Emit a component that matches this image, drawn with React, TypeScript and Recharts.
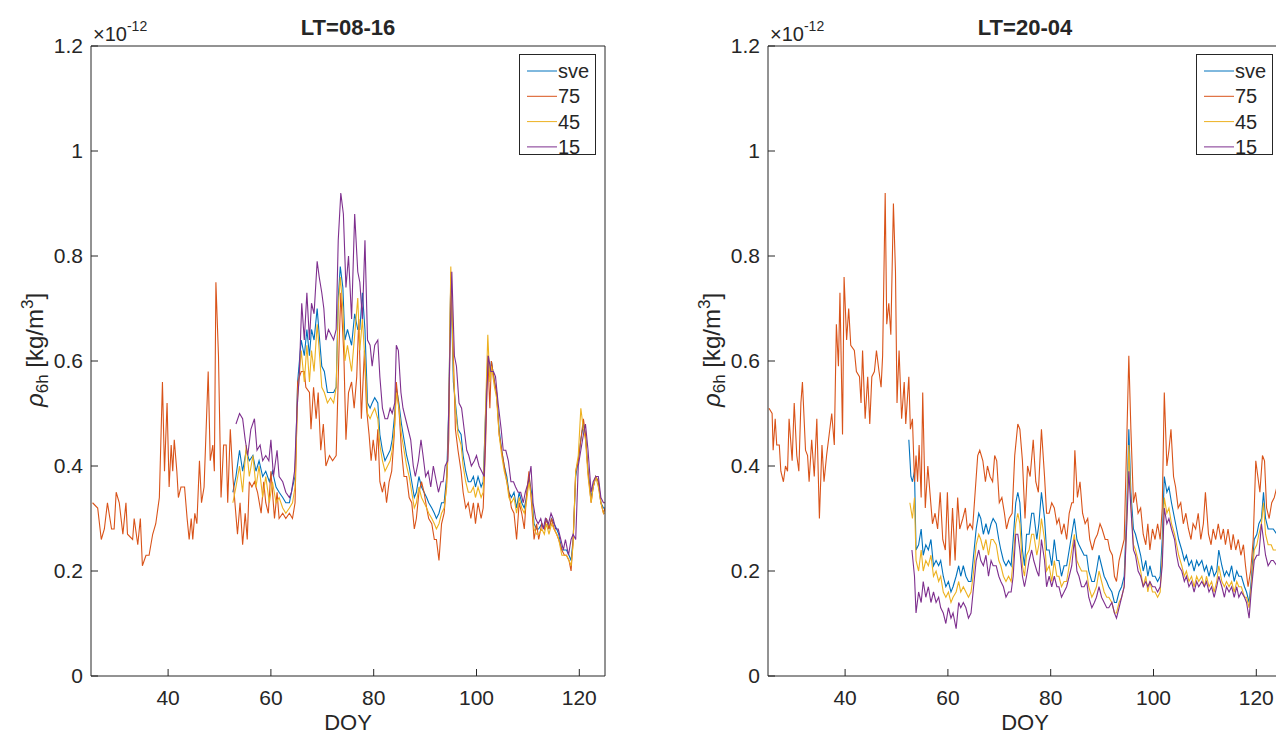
import { LineChart, Line, XAxis, YAxis, Legend } from "recharts";

type Pt = [number, number]; // [DOY, rho_6h in 1e-12 kg/m^3]

// ---- LT=08-16 ----
const leftSve: Pt[] = [[52.6,0.35],[53.2,0.38],[53.9,0.43],[54.5,0.39],[55.2,0.43],[55.8,0.41],[56.5,0.42],[57.1,0.39],[57.7,0.41],[58.4,0.38],[59,0.39],[59.7,0.37],[60.3,0.39],[61,0.36],[61.6,0.35],[62.3,0.34],[62.9,0.33],[63.6,0.33],[64.2,0.36],[64.7,0.38],[65.2,0.56],[65.9,0.64],[66.5,0.61],[67,0.66],[67.5,0.61],[67.9,0.66],[68.4,0.64],[69,0.70],[69.4,0.65],[69.9,0.59],[70.4,0.58],[71,0.54],[71.6,0.54],[72.2,0.54],[72.7,0.55],[73.1,0.72],[73.5,0.78],[74,0.74],[74.4,0.64],[74.9,0.66],[75.7,0.63],[76.3,0.69],[76.9,0.66],[77.3,0.66],[77.8,0.73],[78.3,0.66],[78.8,0.52],[79.3,0.51],[79.7,0.52],[80.2,0.53],[80.8,0.52],[81.2,0.46],[81.7,0.43],[82.2,0.41],[82.7,0.42],[83.2,0.43],[83.6,0.45],[84.1,0.50],[84.4,0.55],[84.9,0.52],[85.4,0.48],[85.9,0.45],[86.4,0.42],[86.9,0.40],[87.4,0.37],[87.9,0.34],[88.3,0.35],[88.8,0.38],[89.3,0.36],[89.8,0.35],[90.3,0.34],[90.7,0.33],[91.3,0.32],[91.8,0.31],[92.2,0.30],[92.7,0.31],[93.2,0.33],[93.7,0.33],[94.2,0.38],[94.6,0.51],[95,0.76],[95.5,0.56],[95.9,0.52],[96.4,0.47],[97,0.46],[97.4,0.42],[97.9,0.39],[98.4,0.37],[98.9,0.37],[99.4,0.38],[99.8,0.36],[100.3,0.38],[100.9,0.36],[101.3,0.37],[101.8,0.51],[102.2,0.61],[102.6,0.57],[102.9,0.60],[103.5,0.56],[103.9,0.54],[104.4,0.47],[104.9,0.43],[105.4,0.40],[105.9,0.38],[106.3,0.35],[106.8,0.34],[107.3,0.35],[107.8,0.32],[108.3,0.35],[108.8,0.33],[109.3,0.32],[109.7,0.34],[110.2,0.38],[110.7,0.35],[111.2,0.29],[111.7,0.28],[112.1,0.28],[112.7,0.29],[113.2,0.28],[113.6,0.30],[114.1,0.28],[114.6,0.30],[115.1,0.29],[115.6,0.28],[116,0.27],[116.6,0.24],[117.1,0.24],[117.5,0.24],[118,0.23],[118.4,0.22],[118.8,0.26],[119.3,0.38],[119.8,0.41],[120.3,0.45],[120.8,0.48],[121.2,0.46],[121.7,0.39],[122.3,0.34],[122.7,0.36],[123.2,0.38],[123.7,0.37],[124.2,0.33],[124.7,0.32],[125,0.32]];

const left75: Pt[] = [[25.3,0.33],[26.3,0.32],[27,0.26],[27.6,0.28],[28.2,0.33],[29,0.28],[29.5,0.28],[29.9,0.35],[30.5,0.33],[31.2,0.27],[31.8,0.33],[32.1,0.27],[33.1,0.26],[33.4,0.30],[34.1,0.25],[34.6,0.30],[35,0.21],[35.7,0.23],[36.3,0.23],[37,0.27],[37.6,0.29],[38.3,0.34],[38.9,0.56],[39.3,0.39],[39.8,0.52],[40.2,0.36],[40.6,0.44],[40.9,0.39],[41.2,0.45],[41.7,0.39],[42,0.34],[42.5,0.36],[43.2,0.36],[43.7,0.30],[44.1,0.26],[44.5,0.30],[44.8,0.26],[45.2,0.31],[45.6,0.29],[46.1,0.41],[46.5,0.33],[47,0.36],[47.8,0.58],[48.2,0.41],[48.7,0.44],[49,0.39],[49.3,0.75],[49.8,0.61],[50.3,0.34],[50.8,0.44],[51.3,0.44],[51.6,0.33],[52.1,0.47],[52.6,0.38],[53,0.33],[53.5,0.27],[54,0.33],[54.5,0.25],[55,0.31],[55.4,0.26],[55.8,0.37],[56.3,0.36],[56.8,0.37],[57.4,0.35],[58.1,0.31],[58.6,0.37],[59,0.33],[59.5,0.31],[60,0.39],[60.7,0.30],[61.2,0.35],[61.6,0.30],[62.3,0.31],[62.9,0.30],[63.6,0.31],[64.2,0.30],[64.7,0.33],[65.2,0.56],[65.9,0.58],[66.5,0.58],[66.8,0.55],[67.5,0.54],[67.8,0.47],[68.3,0.55],[68.8,0.49],[69.2,0.54],[69.7,0.43],[70.2,0.48],[70.7,0.40],[71.4,0.42],[72,0.41],[72.7,0.42],[73.3,0.64],[73.6,0.73],[74.2,0.61],[74.6,0.45],[75.1,0.54],[75.7,0.56],[76.2,0.51],[76.7,0.57],[77.1,0.68],[77.6,0.49],[78.2,0.62],[78.6,0.51],[79.1,0.46],[79.5,0.41],[79.9,0.45],[80.4,0.41],[80.8,0.47],[81.2,0.37],[81.7,0.35],[82.1,0.37],[82.5,0.33],[83,0.37],[83.5,0.39],[84,0.46],[84.4,0.56],[84.9,0.51],[85.4,0.43],[85.9,0.38],[86.4,0.38],[86.9,0.34],[87.4,0.33],[87.9,0.28],[88.3,0.30],[88.8,0.35],[89.3,0.37],[89.8,0.35],[90.3,0.32],[90.7,0.30],[91.3,0.29],[91.8,0.26],[92.2,0.26],[92.7,0.22],[93.2,0.29],[93.7,0.31],[94.2,0.37],[94.6,0.45],[95,0.77],[95.5,0.61],[95.9,0.47],[96.4,0.43],[97,0.39],[97.4,0.35],[97.9,0.32],[98.4,0.33],[98.9,0.30],[99.4,0.33],[99.8,0.29],[100.3,0.33],[100.9,0.30],[101.3,0.32],[101.8,0.45],[102.2,0.61],[102.6,0.51],[102.9,0.60],[103.5,0.56],[103.9,0.54],[104.4,0.46],[104.9,0.43],[105.4,0.40],[105.9,0.37],[106.3,0.35],[106.8,0.32],[107.3,0.31],[107.8,0.26],[108.3,0.33],[108.8,0.31],[109.3,0.28],[109.7,0.34],[110.2,0.39],[110.7,0.33],[111.2,0.26],[111.7,0.29],[112.1,0.26],[112.7,0.29],[113.2,0.28],[113.6,0.30],[114.1,0.28],[114.6,0.30],[115.1,0.28],[115.6,0.27],[116,0.26],[116.6,0.24],[117.1,0.23],[117.5,0.23],[118,0.22],[118.4,0.20],[118.8,0.26],[119.3,0.39],[119.8,0.41],[120.3,0.45],[120.8,0.49],[121.2,0.46],[121.7,0.39],[122.3,0.33],[122.7,0.36],[123.2,0.38],[123.7,0.37],[124.2,0.33],[124.7,0.31],[125,0.32]];

const left45: Pt[] = [[52.6,0.33],[53.2,0.36],[53.9,0.40],[54.5,0.35],[55.2,0.44],[55.8,0.38],[56.5,0.42],[57.1,0.36],[57.7,0.40],[58.4,0.34],[59,0.38],[59.7,0.33],[60.3,0.37],[61,0.33],[61.6,0.34],[62.3,0.32],[62.9,0.31],[63.6,0.32],[64.2,0.33],[64.7,0.36],[65.2,0.53],[65.9,0.62],[66.5,0.56],[67,0.63],[67.5,0.56],[67.9,0.62],[68.4,0.58],[69,0.67],[69.4,0.62],[69.9,0.55],[70.4,0.54],[71,0.52],[71.6,0.53],[72.2,0.52],[72.7,0.55],[73.1,0.70],[73.5,0.76],[74,0.70],[74.4,0.60],[74.9,0.63],[75.7,0.58],[76.3,0.65],[76.9,0.72],[77.3,0.62],[77.8,0.68],[78.3,0.60],[78.8,0.50],[79.3,0.49],[79.7,0.50],[80.2,0.51],[80.8,0.49],[81.2,0.44],[81.7,0.41],[82.2,0.39],[82.7,0.40],[83.2,0.41],[83.6,0.43],[84.1,0.48],[84.4,0.54],[84.9,0.51],[85.4,0.46],[85.9,0.43],[86.4,0.40],[86.9,0.38],[87.4,0.35],[87.9,0.32],[88.3,0.33],[88.8,0.36],[89.3,0.34],[89.8,0.33],[90.3,0.32],[90.7,0.31],[91.3,0.30],[91.8,0.29],[92.2,0.28],[92.7,0.29],[93.2,0.31],[93.7,0.32],[94.2,0.36],[94.6,0.50],[95,0.78],[95.5,0.58],[95.9,0.51],[96.4,0.46],[97,0.44],[97.4,0.40],[97.9,0.37],[98.4,0.35],[98.9,0.35],[99.4,0.36],[99.8,0.34],[100.3,0.36],[100.9,0.34],[101.3,0.35],[101.8,0.52],[102.2,0.65],[102.6,0.56],[102.9,0.59],[103.5,0.55],[103.9,0.53],[104.4,0.46],[104.9,0.42],[105.4,0.39],[105.9,0.37],[106.3,0.34],[106.8,0.33],[107.3,0.34],[107.8,0.31],[108.3,0.34],[108.8,0.32],[109.3,0.31],[109.7,0.33],[110.2,0.37],[110.7,0.34],[111.2,0.28],[111.7,0.27],[112.1,0.27],[112.7,0.28],[113.2,0.27],[113.6,0.29],[114.1,0.27],[114.6,0.29],[115.1,0.28],[115.6,0.27],[116,0.26],[116.6,0.23],[117.1,0.23],[117.5,0.23],[118,0.22],[118.4,0.21],[118.8,0.25],[119.3,0.39],[119.8,0.42],[120.3,0.51],[120.8,0.47],[121.2,0.45],[121.7,0.38],[122.3,0.33],[122.7,0.36],[123.2,0.38],[123.7,0.36],[124.2,0.33],[124.7,0.31],[125,0.31]];

const left15: Pt[] = [[53.2,0.48],[53.9,0.50],[54.5,0.49],[55,0.45],[55.5,0.42],[56.1,0.47],[56.8,0.49],[57.3,0.43],[57.9,0.44],[58.4,0.41],[59,0.42],[59.6,0.41],[60,0.45],[60.5,0.38],[61.2,0.43],[61.6,0.38],[62.3,0.37],[62.9,0.35],[63.6,0.34],[64,0.35],[64.6,0.39],[65.1,0.51],[65.5,0.57],[66,0.71],[66.5,0.64],[67,0.73],[67.5,0.64],[67.9,0.71],[68.4,0.69],[69,0.79],[69.4,0.76],[69.9,0.73],[70.3,0.70],[70.7,0.64],[71.2,0.66],[71.7,0.65],[72.2,0.64],[72.7,0.66],[73.1,0.83],[73.6,0.92],[74.1,0.88],[74.6,0.74],[75.1,0.80],[75.7,0.68],[76.3,0.88],[76.9,0.77],[77.3,0.75],[77.8,0.68],[78.3,0.83],[78.8,0.64],[79.3,0.63],[79.7,0.59],[80.2,0.63],[80.8,0.64],[81.2,0.57],[81.7,0.51],[82.2,0.49],[82.7,0.49],[83.2,0.51],[83.6,0.50],[84.1,0.52],[84.4,0.63],[84.8,0.62],[85.3,0.54],[85.7,0.51],[86.2,0.49],[86.7,0.47],[87.2,0.45],[87.7,0.40],[88.1,0.38],[88.7,0.41],[89.2,0.45],[89.6,0.42],[90.1,0.38],[90.6,0.39],[91.1,0.36],[91.6,0.40],[92,0.38],[92.6,0.35],[93.1,0.37],[93.5,0.37],[93.9,0.40],[94.4,0.41],[94.8,0.61],[95.2,0.77],[95.7,0.61],[96.1,0.59],[96.6,0.52],[97.1,0.51],[97.6,0.47],[98.1,0.43],[98.5,0.42],[99,0.40],[99.6,0.41],[100,0.42],[100.5,0.40],[101,0.39],[101.5,0.38],[102,0.54],[102.3,0.61],[102.8,0.58],[103.3,0.58],[103.7,0.57],[104.2,0.52],[104.8,0.47],[105.2,0.43],[105.7,0.43],[106.2,0.41],[106.7,0.37],[107.2,0.37],[107.6,0.36],[108.1,0.35],[108.6,0.35],[109.1,0.33],[109.5,0.35],[110.1,0.37],[110.6,0.40],[111,0.33],[111.5,0.30],[112,0.29],[112.5,0.30],[113,0.28],[113.4,0.30],[114,0.29],[114.5,0.31],[114.9,0.30],[115.4,0.28],[115.9,0.28],[116.4,0.26],[116.9,0.24],[117.3,0.26],[117.9,0.23],[118.4,0.26],[118.8,0.27],[119.3,0.26],[119.8,0.40],[120.3,0.43],[120.8,0.46],[121.2,0.48],[121.7,0.43],[122.3,0.35],[122.7,0.37],[123.2,0.38],[123.7,0.38],[124.2,0.34],[124.7,0.33],[125,0.33]];

// ---- LT=20-04 ----
const rightSve: Pt[] = [[52.4,0.45],[52.8,0.38],[53.1,0.37],[53.5,0.39],[53.8,0.24],[54.3,0.25],[54.8,0.28],[55.2,0.23],[55.7,0.25],[56.2,0.24],[56.7,0.26],[57.2,0.21],[57.7,0.22],[58.2,0.21],[58.6,0.22],[59.1,0.19],[59.6,0.17],[60.1,0.18],[60.6,0.16],[61,0.17],[61.6,0.19],[62.1,0.21],[62.5,0.19],[63,0.21],[63.5,0.19],[64,0.18],[64.5,0.18],[64.9,0.22],[65.5,0.28],[66,0.31],[66.4,0.30],[66.9,0.27],[67.4,0.29],[67.9,0.27],[68.4,0.29],[68.8,0.30],[69.4,0.29],[69.9,0.26],[70.3,0.24],[70.8,0.22],[71.3,0.21],[71.8,0.22],[72.3,0.21],[72.7,0.26],[73.2,0.33],[73.6,0.35],[74,0.33],[74.5,0.24],[74.9,0.21],[75.3,0.27],[75.8,0.27],[76.3,0.31],[76.7,0.31],[77.3,0.26],[77.7,0.29],[78.2,0.35],[78.8,0.30],[79.2,0.24],[79.7,0.24],[80.2,0.21],[80.7,0.26],[81.2,0.22],[81.6,0.22],[82.1,0.19],[82.6,0.21],[83.1,0.21],[83.6,0.24],[84.1,0.27],[84.6,0.30],[85.1,0.26],[85.5,0.25],[86,0.24],[86.5,0.23],[87,0.23],[87.4,0.20],[88,0.18],[88.5,0.18],[88.9,0.20],[89.4,0.23],[89.9,0.21],[90.4,0.19],[90.9,0.18],[91.3,0.17],[91.9,0.16],[92.4,0.14],[92.8,0.14],[93.3,0.16],[93.8,0.17],[94.3,0.19],[94.8,0.32],[95.2,0.47],[95.6,0.35],[96.1,0.28],[96.5,0.27],[97,0.25],[97.5,0.23],[98,0.20],[98.5,0.22],[98.9,0.19],[99.3,0.21],[99.8,0.19],[100.3,0.19],[100.8,0.18],[101.3,0.19],[101.7,0.26],[102.1,0.38],[102.6,0.35],[103,0.36],[103.5,0.33],[104.1,0.30],[104.5,0.28],[104.9,0.26],[105.5,0.24],[106,0.22],[106.4,0.23],[106.9,0.21],[107.4,0.22],[107.9,0.20],[108.4,0.22],[108.8,0.21],[109.4,0.22],[109.9,0.20],[110.3,0.21],[110.8,0.19],[111.3,0.21],[111.8,0.19],[112.3,0.20],[112.7,0.24],[113.3,0.21],[113.8,0.19],[114.2,0.20],[114.7,0.19],[115.2,0.21],[115.7,0.18],[116.2,0.20],[116.6,0.19],[117.1,0.19],[117.7,0.17],[118.1,0.16],[118.6,0.14],[119,0.18],[119.6,0.26],[120.1,0.27],[120.5,0.29],[121,0.30],[121.4,0.35],[121.8,0.30],[122.3,0.28],[122.9,0.28],[123.3,0.28],[124,0.27],[125,0.27]];

const right75: Pt[] = [[25.2,0.51],[25.8,0.50],[26,0.43],[26.4,0.49],[26.7,0.44],[27.2,0.44],[27.5,0.39],[28,0.37],[28.4,0.40],[28.8,0.39],[29.1,0.49],[29.7,0.41],[30.1,0.52],[30.6,0.42],[31,0.39],[31.4,0.52],[31.7,0.56],[32.3,0.43],[32.7,0.42],[33,0.37],[33.5,0.45],[34,0.38],[34.5,0.49],[35,0.30],[35.5,0.44],[35.9,0.37],[36.4,0.42],[36.9,0.46],[37.4,0.50],[37.9,0.44],[38.3,0.67],[38.7,0.59],[39,0.73],[39.5,0.46],[39.8,0.76],[40.3,0.64],[40.7,0.70],[41.1,0.63],[41.8,0.62],[42.2,0.58],[42.8,0.57],[43.1,0.52],[43.4,0.62],[43.9,0.49],[44.4,0.57],[44.8,0.48],[45.2,0.57],[45.7,0.58],[46.1,0.62],[46.6,0.58],[47,0.55],[47.3,0.61],[47.8,0.92],[48.1,0.67],[48.5,0.71],[48.9,0.65],[49.4,0.90],[49.8,0.77],[50.1,0.52],[50.5,0.62],[51,0.49],[51.5,0.56],[51.8,0.48],[52.4,0.57],[52.7,0.47],[53.1,0.49],[53.5,0.37],[53.8,0.42],[54.1,0.37],[54.4,0.44],[54.8,0.34],[55.1,0.54],[55.6,0.32],[56.1,0.40],[56.5,0.35],[57,0.29],[57.5,0.31],[58,0.28],[58.5,0.35],[59,0.26],[59.5,0.24],[59.9,0.35],[60.4,0.21],[60.9,0.32],[61.4,0.22],[61.9,0.34],[62.3,0.28],[62.9,0.30],[63.4,0.32],[63.8,0.28],[64.3,0.29],[64.8,0.28],[65.3,0.35],[65.8,0.42],[66.2,0.43],[66.8,0.41],[67.3,0.37],[67.7,0.40],[68.2,0.38],[68.7,0.37],[69.1,0.42],[69.5,0.41],[70,0.33],[70.5,0.34],[71,0.31],[71.4,0.28],[71.9,0.30],[72.5,0.31],[73,0.42],[73.6,0.48],[74,0.47],[74.5,0.41],[75,0.30],[75.5,0.40],[76,0.38],[76.6,0.45],[77.1,0.37],[77.6,0.35],[78.2,0.47],[78.8,0.38],[79.2,0.31],[79.7,0.31],[80.2,0.33],[80.7,0.32],[81.2,0.29],[81.6,0.30],[82.1,0.27],[82.6,0.29],[83.1,0.26],[83.6,0.31],[84.1,0.33],[84.4,0.33],[84.7,0.43],[85.2,0.34],[85.7,0.37],[86.2,0.31],[86.7,0.29],[87.2,0.30],[87.6,0.26],[88.1,0.24],[88.6,0.26],[89.1,0.27],[89.6,0.29],[90,0.28],[90.6,0.26],[91.1,0.26],[91.5,0.24],[92,0.23],[92.4,0.19],[92.8,0.18],[93.3,0.22],[93.8,0.24],[94.3,0.26],[94.8,0.45],[95.2,0.61],[95.6,0.47],[96.1,0.33],[96.5,0.35],[97,0.31],[97.5,0.32],[98,0.27],[98.5,0.25],[98.9,0.29],[99.3,0.24],[99.8,0.28],[100.3,0.26],[100.8,0.29],[101.3,0.26],[101.7,0.32],[102.1,0.54],[102.6,0.40],[103,0.43],[103.4,0.47],[103.9,0.38],[104.3,0.36],[104.8,0.32],[105.3,0.33],[105.8,0.29],[106.3,0.31],[106.8,0.28],[107.3,0.26],[107.7,0.29],[108.2,0.28],[108.7,0.31],[109.2,0.26],[109.7,0.29],[110.1,0.35],[110.7,0.27],[111.2,0.25],[111.6,0.28],[112.1,0.26],[112.6,0.29],[113.1,0.26],[113.6,0.28],[114,0.25],[114.5,0.28],[115.1,0.24],[115.5,0.27],[116,0.24],[116.5,0.26],[117,0.23],[117.5,0.25],[117.9,0.21],[118.4,0.17],[118.9,0.20],[119.4,0.26],[119.9,0.41],[120.3,0.38],[120.7,0.35],[121.2,0.42],[121.6,0.41],[122,0.32],[122.5,0.30],[123,0.33],[123.5,0.34],[124,0.36],[124.5,0.42],[125,0.40]];

const right45: Pt[] = [[52.6,0.33],[53.1,0.30],[53.5,0.34],[53.8,0.22],[54.3,0.20],[54.8,0.24],[55.2,0.20],[55.7,0.22],[56.2,0.21],[56.7,0.23],[57.2,0.19],[57.7,0.20],[58.2,0.18],[58.6,0.19],[59.1,0.16],[59.6,0.15],[60.1,0.16],[60.6,0.14],[61,0.15],[61.6,0.16],[62.1,0.18],[62.5,0.16],[63,0.17],[63.5,0.16],[64,0.15],[64.5,0.16],[64.9,0.19],[65.5,0.25],[66,0.27],[66.4,0.26],[66.9,0.24],[67.4,0.26],[67.9,0.23],[68.4,0.26],[68.8,0.26],[69.4,0.25],[69.9,0.22],[70.3,0.21],[70.8,0.19],[71.3,0.18],[71.8,0.19],[72.3,0.18],[72.7,0.22],[73.2,0.29],[73.6,0.31],[74,0.29],[74.5,0.21],[74.9,0.19],[75.3,0.23],[75.8,0.24],[76.3,0.27],[76.7,0.27],[77.3,0.23],[77.7,0.25],[78.2,0.30],[78.8,0.26],[79.2,0.20],[79.7,0.21],[80.2,0.18],[80.7,0.22],[81.2,0.19],[81.6,0.19],[82.1,0.17],[82.6,0.18],[83.1,0.18],[83.6,0.21],[84.1,0.24],[84.6,0.27],[85.1,0.22],[85.5,0.21],[86,0.20],[86.5,0.20],[87,0.20],[87.4,0.17],[88,0.15],[88.5,0.16],[88.9,0.17],[89.4,0.20],[89.9,0.18],[90.4,0.16],[90.9,0.15],[91.3,0.15],[91.9,0.14],[92.4,0.12],[92.8,0.12],[93.3,0.14],[93.8,0.15],[94.3,0.17],[94.8,0.30],[95.2,0.44],[95.6,0.33],[96.1,0.25],[96.5,0.24],[97,0.22],[97.5,0.20],[98,0.17],[98.5,0.19],[98.9,0.16],[99.3,0.18],[99.8,0.16],[100.3,0.16],[100.8,0.15],[101.3,0.16],[101.7,0.23],[102.1,0.34],[102.6,0.31],[103,0.32],[103.5,0.29],[104.1,0.27],[104.5,0.25],[104.9,0.23],[105.5,0.21],[106,0.19],[106.4,0.20],[106.9,0.18],[107.4,0.19],[107.9,0.17],[108.4,0.19],[108.8,0.18],[109.4,0.19],[109.9,0.17],[110.3,0.19],[110.8,0.17],[111.3,0.18],[111.8,0.16],[112.3,0.18],[112.7,0.21],[113.3,0.18],[113.8,0.17],[114.2,0.18],[114.7,0.17],[115.2,0.18],[115.7,0.16],[116.2,0.18],[116.6,0.17],[117.1,0.17],[117.7,0.15],[118.1,0.15],[118.6,0.13],[119,0.17],[119.6,0.24],[120.1,0.25],[120.5,0.27],[121,0.29],[121.4,0.33],[121.8,0.27],[122.3,0.25],[122.9,0.25],[123.3,0.24],[124,0.24],[125,0.25]];

const right15: Pt[] = [[53,0.24],[53.5,0.19],[53.8,0.12],[54.3,0.16],[54.8,0.14],[55.2,0.18],[55.7,0.15],[56.2,0.17],[56.7,0.14],[57.2,0.16],[57.7,0.14],[58.2,0.15],[58.6,0.13],[59.1,0.12],[59.6,0.10],[60.1,0.13],[60.6,0.11],[61,0.12],[61.6,0.09],[62.1,0.14],[62.5,0.13],[63,0.14],[63.5,0.13],[64,0.11],[64.5,0.12],[64.9,0.16],[65.5,0.22],[66,0.24],[66.4,0.22],[66.9,0.21],[67.4,0.23],[67.9,0.19],[68.4,0.22],[68.8,0.21],[69.4,0.21],[69.9,0.19],[70.3,0.18],[70.8,0.17],[71.3,0.15],[71.8,0.16],[72.3,0.16],[72.7,0.19],[73.2,0.27],[73.6,0.27],[74,0.24],[74.5,0.19],[74.9,0.17],[75.3,0.19],[75.8,0.22],[76.3,0.24],[76.7,0.22],[77.3,0.20],[77.7,0.19],[78.2,0.26],[78.8,0.22],[79.2,0.17],[79.7,0.19],[80.2,0.17],[80.7,0.19],[81.2,0.17],[81.6,0.17],[82.1,0.15],[82.6,0.16],[83.1,0.17],[83.6,0.19],[84.1,0.21],[84.6,0.26],[85.1,0.20],[85.5,0.19],[86,0.17],[86.5,0.17],[87,0.18],[87.4,0.15],[88,0.13],[88.5,0.14],[88.9,0.15],[89.4,0.17],[89.9,0.15],[90.4,0.14],[90.9,0.13],[91.3,0.13],[91.9,0.14],[92.4,0.12],[92.8,0.11],[93.3,0.13],[93.8,0.15],[94.3,0.17],[94.8,0.29],[95.2,0.39],[95.6,0.32],[96.1,0.24],[96.5,0.23],[97,0.20],[97.5,0.19],[98,0.17],[98.5,0.18],[98.9,0.17],[99.3,0.18],[99.8,0.17],[100.3,0.17],[100.8,0.16],[101.3,0.17],[101.7,0.21],[102.1,0.32],[102.6,0.29],[103,0.30],[103.5,0.28],[104.1,0.26],[104.5,0.23],[104.9,0.21],[105.5,0.20],[106,0.18],[106.4,0.19],[106.9,0.17],[107.4,0.18],[107.9,0.16],[108.4,0.18],[108.8,0.17],[109.4,0.18],[109.9,0.17],[110.3,0.18],[110.8,0.16],[111.3,0.17],[111.8,0.15],[112.3,0.17],[112.7,0.19],[113.3,0.17],[113.8,0.15],[114.2,0.17],[114.7,0.16],[115.2,0.17],[115.7,0.15],[116.2,0.17],[116.6,0.15],[117.1,0.16],[117.7,0.15],[118.1,0.14],[118.6,0.11],[119,0.16],[119.6,0.22],[120.1,0.23],[120.5,0.23],[121,0.29],[121.4,0.26],[121.8,0.23],[122.3,0.21],[122.9,0.22],[123.3,0.22],[124,0.21],[125,0.22]];

const SERIES_NAMES = ["sve", "75", "45", "15"];
const COLORS: Record<string, string> = {
  sve: "#0072BD",
  "75": "#D95319",
  "45": "#EDB120",
  "15": "#7E2F8E",
};
const DOY_TICKS = [40, 60, 80, 100, 120];
const RHO_TICKS = [0, 0.2, 0.4, 0.6, 0.8, 1, 1.2];

// layout of one panel (plot box inside a 640x736 svg)
const W = 640;
const H = 736;
const PL = 91;
const PR = 605;
const PT = 46;
const PB = 676;
const INK = "#262626";
const FONT = "'Liberation Sans', Arial, Helvetica, sans-serif";

const rows = (pts: Pt[]) => pts.map(([doy, rho]) => ({ doy, rho }));
const fmtRho = (v: number) => String(Math.round(v * 10) / 10);

const LegendBox = () => (
  <svg width={77} height={101} style={{ display: "block", overflow: "visible" }}>
    <rect x={0.5} y={0.5} width={76} height={100} fill="#fff" stroke={INK} />
    {SERIES_NAMES.map((name, i) => {
      const cy = 17 + i * 25.3;
      return (
        <g key={name}>
          <line x1={8} x2={38} y1={cy} y2={cy} stroke={COLORS[name]} strokeWidth={1} />
          <text x={39} y={cy + 7} fontSize={20} fill={INK} fontFamily={FONT}>
            {name}
          </text>
        </g>
      );
    })}
  </svg>
);

const renderDoy = () => (
  <text x={(PL + PR) / 2} y={730} textAnchor="middle" fontSize={22} fill={INK} fontFamily={FONT}>
    DOY
  </text>
);

const renderYLabels = () => (
  <g fill={INK} fontFamily={FONT}>
    <text x={PL + 2} y={41} fontSize={20}>
      <tspan>×10</tspan>
      <tspan fontSize={14} dy={-10}>-12</tspan>
    </text>
    <text x={43} y={350} transform="rotate(-90 43 350)" textAnchor="middle" fontSize={24}>
      <tspan fontStyle="italic">ρ</tspan>
      <tspan fontSize={17} dy={5}>6h</tspan>
      <tspan dy={-5}> [kg/m</tspan>
      <tspan fontSize={17} dy={-10}>3</tspan>
      <tspan dy={10}>]</tspan>
    </text>
  </g>
);

interface PanelProps {
  title: string;
  left: number;
  sve: Pt[];
  p75: Pt[];
  p45: Pt[];
  p15: Pt[];
}

function ChartPanel({ title, left, sve, p75, p45, p15 }: PanelProps) {
  const series: { name: string; pts: Pt[] }[] = [
    { name: "sve", pts: sve },
    { name: "75", pts: p75 },
    { name: "45", pts: p45 },
    { name: "15", pts: p15 },
  ];
  const renderTitle = () => (
    <text x={(PL + PR) / 2} y={35} textAnchor="middle" fontSize={22} fontWeight="bold" fill={INK} fontFamily={FONT}>
      {title}
    </text>
  );
  const tickStyle = { fill: INK, fontSize: 21, fontFamily: FONT };

  return (
    <div style={{ position: "absolute", left, top: 0, width: W, height: H }}>
      <LineChart
        width={W}
        height={H}
        margin={{ top: PT - 1, right: W - PR - 1, bottom: H - PB - 40, left: PL - 60 }}
      >
        <XAxis
          xAxisId="b"
          dataKey="doy"
          type="number"
          domain={[25, 125]}
          ticks={DOY_TICKS}
          allowDataOverflow
          height={40}
          tickSize={-7}
          tickMargin={21}
          stroke={INK}
          tick={tickStyle}
          label={renderDoy}
        />
        <XAxis
          xAxisId="t"
          orientation="top"
          dataKey="doy"
          type="number"
          domain={[25, 125]}
          ticks={DOY_TICKS}
          allowDataOverflow
          height={1}
          tickSize={-7}
          tick={false}
          stroke={INK}
          label={renderTitle}
        />
        <YAxis
          yAxisId="l"
          type="number"
          domain={[0, 1.2]}
          ticks={RHO_TICKS}
          allowDataOverflow
          width={60}
          tickSize={-7}
          tickMargin={15}
          tickFormatter={fmtRho}
          stroke={INK}
          tick={tickStyle}
          label={renderYLabels}
        />
        <YAxis
          yAxisId="r"
          orientation="right"
          type="number"
          domain={[0, 1.2]}
          ticks={RHO_TICKS}
          allowDataOverflow
          width={1}
          tickSize={-7}
          tick={false}
          stroke={INK}
        />
        {series.map((s) => (
          <Line
            key={s.name}
            xAxisId="b"
            yAxisId="l"
            data={rows(s.pts)}
            dataKey="rho"
            name={s.name}
            type="linear"
            stroke={COLORS[s.name]}
            strokeWidth={1.1}
            dot={false}
            activeDot={false}
            isAnimationActive={false}
          />
        ))}
        <Legend
          layout="vertical"
          align="center"
          verticalAlign="middle"
          wrapperStyle={{ left: PR - 86, top: 54, width: 77, height: 101 }}
          content={() => <LegendBox />}
        />
      </LineChart>
    </div>
  );
}

export default function App() {
  return (
    <div
      style={{
        position: "fixed",
        left: 0,
        top: 0,
        width: 1276,
        height: 736,
        overflow: "hidden",
        background: "#fff",
        fontFamily: FONT,
      }}
    >
      <ChartPanel title="LT=08-16" left={0} sve={leftSve} p75={left75} p45={left45} p15={left15} />
      <ChartPanel title="LT=20-04" left={677} sve={rightSve} p75={right75} p45={right45} p15={right15} />
    </div>
  );
}
